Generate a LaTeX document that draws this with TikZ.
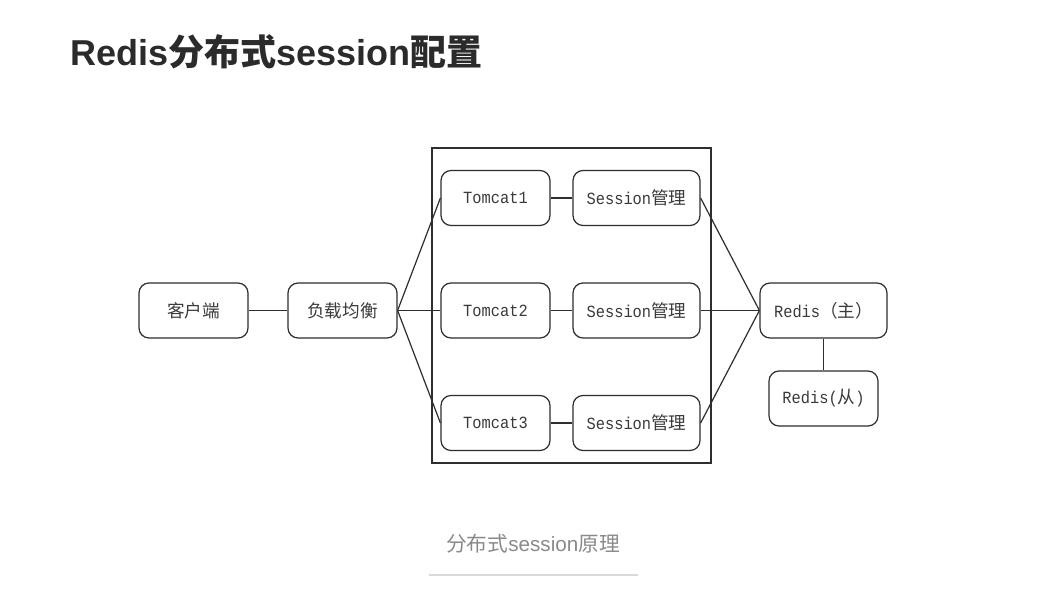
\documentclass[tikz,border=0pt]{standalone}
\usepackage{fontspec}
\setmainfont{Liberation Sans}
\newfontfamily\cjk{Noto Sans CJK SC}
\newfontfamily\boxmono[FakeStretch=0.9]{Liberation Mono}
\definecolor{titlecol}{HTML}{2B2B2B}
\definecolor{boxtext}{HTML}{3A3A3A}
\definecolor{boxline}{HTML}{2E2E2E}
\definecolor{capcol}{HTML}{8A8A8A}
\definecolor{rulecol}{HTML}{D9D9D9}
\newcommand{\cj}[1]{{\cjk #1}}
\newcommand{\bcj}[1]{{\cjk\fontsize{13.2pt}{15pt}\selectfont #1}}
\begin{document}
\begin{tikzpicture}[x=0.75pt,y=-0.75pt,
  rbox/.style={draw=boxline, line width=0.9pt, rounded corners=7.5pt, minimum height=41.25pt,
    minimum width=81.75pt, inner sep=0pt, text=boxtext, font=\boxmono\fontsize{12.8pt}{14pt}\selectfont},
  wbox/.style={rbox, minimum width=95.25pt},
  link/.style={draw=boxline, line width=0.9pt}]
\useasboundingbox (0,0) rectangle (1048,606);
\fill[white] (0,0) rectangle (1048,606);
% title
\node[anchor=base west, inner sep=0pt, text=titlecol, font=\fontsize{27pt}{30pt}\selectfont\bfseries] (title) at (70,66)
  {Redis\cj{分布式}session\cj{配置}};
% container
\node[draw=boxline, line width=0.9pt, minimum width=209.25pt, minimum height=236.25pt, inner sep=0pt] (frame) at (571.5,305.5) {};
% nodes
\node[rbox] (client) at (193.5,310.5) {\bcj{客户端}};
\node[rbox] (lb) at (342.5,310.5) {\bcj{负载均衡}};
\node[rbox] (t1) at (495.5,198) {Tomcat1};
\node[rbox] (t2) at (495.5,310.5) {Tomcat2};
\node[rbox] (t3) at (495.5,423) {Tomcat3};
\node[wbox] (s1) at (636.5,198) {Session\bcj{管理}};
\node[wbox] (s2) at (636.5,310.5) {Session\bcj{管理}};
\node[wbox] (s3) at (636.5,423) {Session\bcj{管理}};
\node[wbox] (rm) at (823.5,310.5) {Redis\bcj{（主）}};
\node[rbox] (rs) at (823.5,398.5) {Redis(\bcj{从})};
% links
\draw[link] (client) -- (lb);
\draw[link] (lb.east) -- (t1.west);
\draw[link] (lb.east) -- (t2.west);
\draw[link] (lb.east) -- (t3.west);
\draw[link] (t1) -- (s1);
\draw[link] (t2) -- (s2);
\draw[link] (t3) -- (s3);
\draw[link] (s1.east) -- (rm.west);
\draw[link] (s2.east) -- (rm.west);
\draw[link] (s3.east) -- (rm.west);
\draw[link] (rm) -- (rs);
% caption
\node[anchor=base, inner sep=0pt, text=capcol, font=\fontsize{15.5pt}{18pt}\selectfont] (cap) at (533,551)
  {\cj{分布式}session\cj{原理}};
\coordinate (rl) at (429,575);
\coordinate (rr) at (638,575);
\draw[rulecol, line width=1.5pt] (rl) -- (rr);
\end{tikzpicture}
\end{document}
